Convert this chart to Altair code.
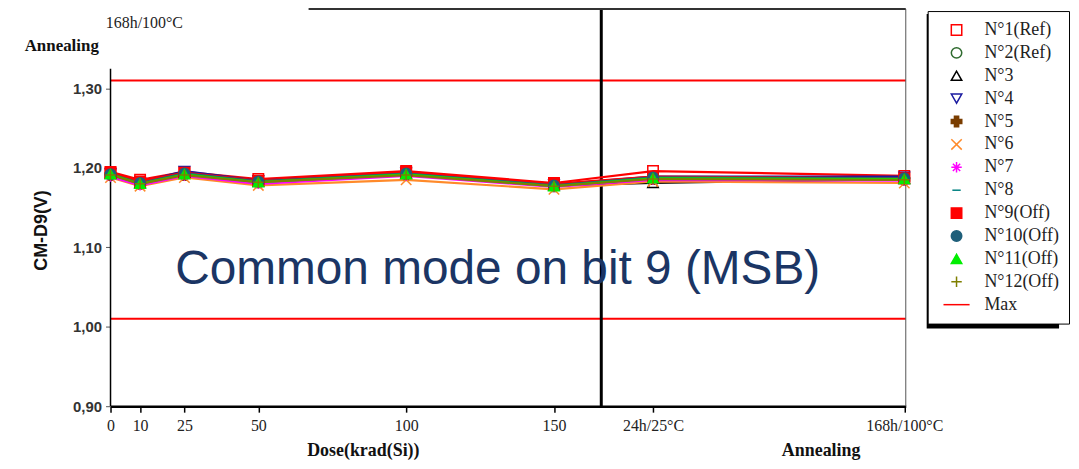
import altair as alt
import pandas as pd

# ---------------- data ----------------
X_POS = [0, 10, 25, 50, 100, 150, 183.5, 268.5]
X_LABELS = ["0", "10", "25", "50", "100", "150", "24h/25°C", "168h/100°C"]

SERIES = ["N°1(Ref)", "N°2(Ref)", "N°3", "N°4", "N°5", "N°6", "N°7", "N°8",
          "N°9(Off)", "N°10(Off)", "N°11(Off)", "N°12(Off)"]

V1 = [1.195, 1.185, 1.195, 1.186, 1.196, 1.181, 1.196, 1.190]
V2 = [1.192, 1.181, 1.192, 1.183, 1.193, 1.178, 1.188, 1.187]
V3 = [1.193, 1.181, 1.194, 1.183, 1.193, 1.178, 1.181, 1.186]
V4 = [1.193, 1.182, 1.196, 1.184, 1.194, 1.179, 1.189, 1.189]
V5 = [1.191, 1.180, 1.191, 1.182, 1.192, 1.177, 1.186, 1.185]
V6 = [1.188, 1.177, 1.188, 1.178, 1.185, 1.173, 1.183, 1.181]
V7 = [1.189, 1.178, 1.190, 1.180, 1.190, 1.176, 1.185, 1.184]
V8 = [1.192, 1.181, 1.192, 1.183, 1.192, 1.178, 1.187, 1.186]
V9 = [1.194, 1.183, 1.194, 1.184, 1.195, 1.180, 1.189, 1.187]
V10 = [1.192, 1.181, 1.193, 1.183, 1.193, 1.178, 1.188, 1.187]
V11 = [1.192, 1.180, 1.192, 1.182, 1.192, 1.177, 1.187, 1.186]
V12 = [1.191, 1.180, 1.191, 1.182, 1.191, 1.177, 1.186, 1.185]
VALUES = [V1, V2, V3, V4, V5, V6, V7, V8, V9, V10, V11, V12]

MAX_LIMITS = [1.31, 1.01]
SEPARATOR_X = [166]
Y_TICKS = [0.9, 1.0, 1.1, 1.2, 1.3]

COLORS = ["#ff0000", "#2f6b2f", "#000000", "#1a1aa0", "#7a3d00", "#ff8a2a",
          "#ff00ff", "#008080", "#ff0000", "#1f5f7a", "#00ee00", "#7f7f00"]
FILLS = ["transparent", "transparent", "transparent", "transparent", "#7a3d00",
         "transparent", "transparent", "transparent", "#ff0000", "#1f5f7a",
         "#00ee00", "transparent"]
SHAPES = [
    "square",
    "circle",
    "triangle-up",
    "triangle-down",
    "cross",
    "M-1,-1L1,1M-1,1L1,-1",
    "M-1,0L1,0M0,-1L0,1M-0.7,-0.7L0.7,0.7M-0.7,0.7L0.7,-0.7",
    "M-0.8,0L0.8,0",
    "square",
    "circle",
    "triangle-up",
    "M-1,0L1,0M0,-1L0,1",
]
MAX_NAME = "Max"
MAX_SHAPE = "M-2.5,0L2.5,0"

# ---------------- tables ----------------
rows = []
for name, vals in zip(SERIES, VALUES):
    for i, (xp, v) in enumerate(zip(X_POS, vals)):
        rows.append({"series": name, "x": xp, "v": v, "order": i})
df = pd.DataFrame(rows)
df_max = pd.DataFrame({"series": [MAX_NAME] * len(MAX_LIMITS), "v": MAX_LIMITS})
df_sep = pd.DataFrame({"x": SEPARATOR_X})

DOMAIN = SERIES + [MAX_NAME]
stroke_scale = alt.Scale(domain=DOMAIN, range=COLORS + ["#ff0000"])
fill_scale = alt.Scale(domain=DOMAIN, range=FILLS + ["transparent"])
shape_scale = alt.Scale(domain=DOMAIN, range=SHAPES + [MAX_SHAPE])

label_expr = " : ".join(
    f"datum.value == {p} ? '{l}'" for p, l in zip(X_POS, X_LABELS)
) + " : ''"

x_enc = alt.X(
    "x:Q",
    scale=alt.Scale(domain=[0, 269], nice=False, zero=False),
    axis=alt.Axis(
        values=X_POS, labelExpr=label_expr, labelFont="Liberation Serif",
        labelFontSize=16, labelColor="#222", tickColor="black", tickSize=6,
        tickWidth=1.5, domainColor="black", domainWidth=2.5, grid=False,
        title=None, labelPadding=5, labelOverlap=False, labelFlush=False,
        labelBound=False,
    ),
)
y_scale = alt.Scale(domain=[0.9, 1.4], nice=False, zero=False)
y_enc = alt.Y(
    "v:Q",
    scale=y_scale,
    axis=alt.Axis(
        values=Y_TICKS,
        labelExpr="replace(format(datum.value, '.2f'), '.', ',')",
        labelFont="Liberation Sans", labelFontWeight="bold", labelFontSize=15,
        labelColor="#333", tickColor="#555", tickSize=5, labelPadding=4,
        domain=False, grid=False, title="CM-D9(V)", titleFont="Liberation Sans",
        titleFontSize=18, titleFontWeight="bold", titleColor="#111",
        titleX=-69, titleY=222, titleAngle=-90, titleAlign="center",
        titleBaseline="middle",
    ),
)

legend = alt.Legend(
    orient="none", legendX=821, legendY=2, padding=10, zindex=2,
    strokeColor="black", fillColor="white", title=None,
    labelFont="Liberation Serif", labelFontSize=18, labelColor="#222",
    symbolSize=110, symbolStrokeWidth=1.5, rowPadding=5,
    symbolOffset=10, labelOffset=19,
)

lines = alt.Chart(df).mark_line(strokeWidth=2.2).encode(
    x=x_enc, y=y_enc,
    stroke=alt.Stroke("series:N", scale=stroke_scale, legend=legend),
    order="order:Q",
)

points = alt.Chart(df).mark_point(opacity=1, strokeWidth=1.5, size=110).encode(
    x="x:Q", y="v:Q",
    stroke=alt.Stroke("series:N", scale=stroke_scale, legend=legend),
    fill=alt.Fill("series:N", scale=fill_scale, legend=legend),
    shape=alt.Shape("series:N", scale=shape_scale, legend=legend),
)

max_rules = alt.Chart(df_max).mark_rule(strokeWidth=2).encode(
    y="v:Q",
    stroke=alt.Stroke("series:N", scale=stroke_scale, legend=legend),
)

sep = alt.Chart(df_sep).mark_rule(strokeWidth=3, color="black").encode(x="x:Q")

deco = alt.Chart(pd.DataFrame({"a": [0]}))
yaxis_line = deco.mark_rule(color="black", strokeWidth=1.5).encode(
    x=alt.value(0), y=alt.value(60), y2=alt.value(399))
right_border = deco.mark_rule(color="#555", strokeWidth=1).encode(
    x=alt.value(799), y=alt.value(0), y2=alt.value(399))
top_border = deco.mark_rule(color="#333", strokeWidth=2).encode(
    x=alt.value(199), x2=alt.value(799), y=alt.value(0))
shadow = deco.mark_rect(color="black").encode(
    x=alt.value(820), x2=alt.value(953), y=alt.value(5), y2=alt.value(321))

def txt(s, x, y, size, font="Liberation Serif", weight="normal", color="#222"):
    return deco.mark_text(text=s, font=font, fontSize=size, fontWeight=weight,
                          color=color, align="center", baseline="middle").encode(
        x=alt.value(x), y=alt.value(y))

big = txt("Common mode on bit 9 (MSB)", 389, 262, 48, font="Liberation Sans",
          color="#1b3564")
t_dose = txt("Dose(krad(Si))", 254, 444, 18, weight="bold", color="#111")
t_ann = txt("Annealing", 714, 444, 18, weight="bold", color="#111")
t_top1 = txt("168h/100°C", 34, 14, 16)
t_top2 = txt("Annealing", -49, 37, 17, weight="bold", color="#111")

chart = alt.layer(
    shadow, max_rules, sep, right_border, top_border, yaxis_line,
    lines, points, big, t_dose, t_ann, t_top1, t_top2,
).properties(
    width=799, height=399,
    padding={"left": 103, "top": 0, "right": 166, "bottom": 54},
    autosize="none",
).configure_view(stroke=None)

chart.save("out.html", embed_options={"renderer": "svg", "actions": False})
